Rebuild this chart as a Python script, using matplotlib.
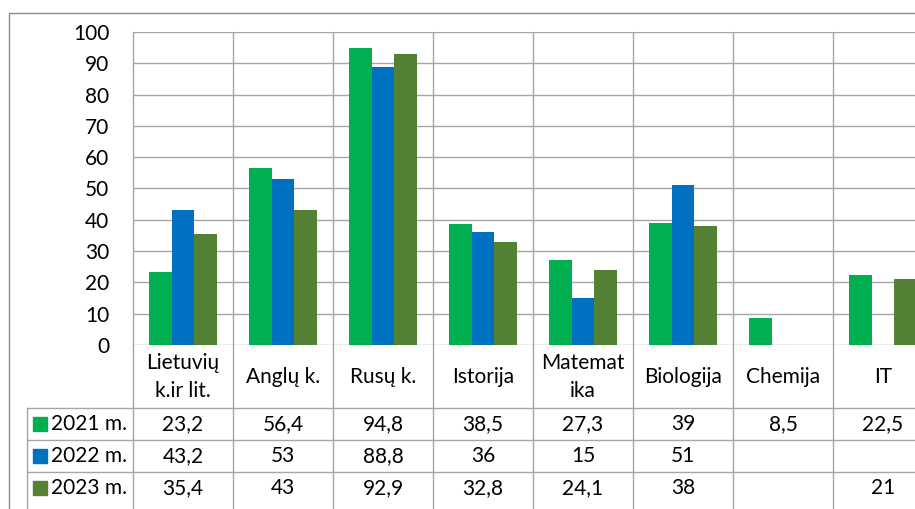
import numpy as np
import matplotlib
matplotlib.use("Agg")
import matplotlib.pyplot as plt
import matplotlib.transforms as mtransforms
from matplotlib.patches import Rectangle

plt.rcParams['font.family'] = ['Lato', 'DejaVu Sans']

# Data
categories = ["Lietuvių\nk.ir lit.", "Anglų k.", "Rusų k.", "Istorija",
              "Matemat\nika", "Biologija", "Chemija", "IT"]
series_names = ["2021 m.", "2022 m.", "2023 m."]
y2021 = [23.2, 56.4, 94.8, 38.5, 27.3, 39, 8.5, 22.5]
y2022 = [43.2, 53, 88.8, 36, 15, 51, None, None]
y2023 = [35.4, 43, 92.9, 32.8, 24.1, 38, None, 21]
yticks = list(range(0, 101, 10))

series = [y2021, y2022, y2023]
colors = ["#00B050", "#0070C0", "#548235"]
grid_c = "#a6a6a6"
fs = 15

W, H = 915, 509
fig = plt.figure(figsize=(W / 100, H / 100), dpi=100)

# plot area in pixels: left 133, top 32, zero line 345, 100px per category
top_px, zero_px, left_px = 32, 345, 133
ax_h = zero_px - top_px
ax = fig.add_axes([left_px / W, (H - zero_px) / H, 800 / W, ax_h / H])
ax.set_xlim(-0.5, 7.5)
ax.set_ylim(0, 100)

def ay(py):
    # pixel row -> axes fraction
    return (zero_px - py) / ax_h

def dx(px):
    # pixel column -> data x
    return (px - left_px) / 100 - 0.5

# outer chart border
fig.patches.append(Rectangle((9 / W, -1), 2, 1 + (1 - 13 / H), fill=False,
                             edgecolor="#8c8c8c", lw=1.0,
                             transform=fig.transFigure, figure=fig))

x = np.arange(len(categories))
bw = 0.225
for i, (vals, c) in enumerate(zip(series, colors)):
    h = [np.nan if v is None else v for v in vals]
    ax.bar(x + (i - 1) * bw, h, width=bw, color=c, zorder=3)

for s in ax.spines.values():
    s.set_visible(False)
ax.set_xticks([])
ax.set_yticks(yticks)
ax.tick_params(axis='y', length=0, pad=17, labelsize=fs)
ax.yaxis.grid(True, color=grid_c, lw=1.0, zorder=0)
ax.set_axisbelow(True)

blend = mtransforms.blended_transform_factory(ax.transData, ax.transAxes)
bottom = ay(H + 5)

# vertical lines at category boundaries, through the table
for k in range(len(categories) + 1):
    ax.plot([k - 0.5, k - 0.5], [1, bottom], color=grid_c, lw=1.0,
            transform=blend, clip_on=False, zorder=1)
# left border of legend column
ax.plot([dx(27), dx(27)], [ay(408), bottom], color=grid_c, lw=1.0,
        transform=blend, clip_on=False)
# table row lines
for py in [408, 440, 472]:
    ax.plot([dx(27), 7.5], [ay(py), ay(py)], color=grid_c, lw=1.0,
            transform=blend, clip_on=False)

# header labels
for i, cat in enumerate(categories):
    ax.text(i, ay(377), cat, ha='center', va='center', fontsize=fs,
            linespacing=1.5, transform=blend, clip_on=False)

# table rows
row_y = [424, 456, 488]
for r, (vals, c, name) in enumerate(zip(series, colors, series_names)):
    yy = ay(row_y[r])
    ax.plot([dx(39.5)], [yy], marker='s', ms=9.5, color=c, lw=0,
            transform=blend, clip_on=False)
    ax.text(dx(51), yy, name, ha='left', va='center', fontsize=fs,
            transform=blend, clip_on=False)
    for i, v in enumerate(vals):
        if v is None:
            continue
        ax.text(i, yy, f"{v:g}".replace('.', ','), ha='center', va='center',
                fontsize=fs, transform=blend, clip_on=False)

fig.savefig("out.png", dpi=100)
